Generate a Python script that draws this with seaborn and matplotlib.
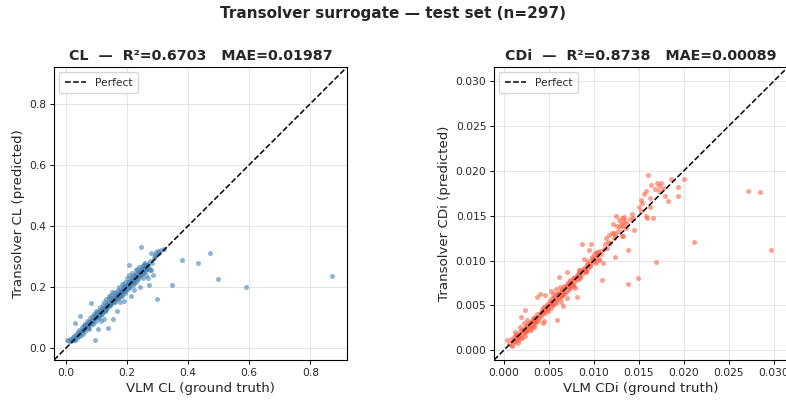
import numpy as np
import pandas as pd
import matplotlib
matplotlib.use("Agg")
import matplotlib.pyplot as plt
import seaborn as sns

# ---------------- data ----------------
cl_true = [
    0.005, 0.010, 0.015, 0.018, 0.022, 0.025, 0.028, 0.030, 0.030, 0.033, 0.035, 0.038, 0.040, 0.042, 0.045,
    0.046, 0.048, 0.050, 0.052, 0.055, 0.057, 0.058, 0.060, 0.062, 0.064, 0.066, 0.068, 0.070, 0.072, 0.074,
    0.076, 0.078, 0.080, 0.081, 0.082, 0.085, 0.087, 0.088, 0.090, 0.092, 0.094, 0.095, 0.097, 0.099, 0.100,
    0.102, 0.104, 0.105, 0.107, 0.108, 0.110, 0.112, 0.113, 0.115, 0.117, 0.118, 0.120, 0.121, 0.123, 0.125,
    0.126, 0.128, 0.130, 0.131, 0.133, 0.135, 0.136, 0.138, 0.139, 0.140, 0.142, 0.143, 0.145, 0.146, 0.148,
    0.150, 0.151, 0.153, 0.154, 0.155, 0.157, 0.158, 0.160, 0.161, 0.163, 0.164, 0.166, 0.167, 0.168, 0.170,
    0.171, 0.173, 0.174, 0.176, 0.177, 0.179, 0.180, 0.182, 0.183, 0.185, 0.186, 0.188, 0.189, 0.190, 0.192,
    0.193, 0.195, 0.196, 0.198, 0.199, 0.200, 0.150, 0.140, 0.125, 0.115,
    0.202, 0.204, 0.205, 0.207, 0.208, 0.209, 0.211, 0.212, 0.213, 0.215, 0.216, 0.218, 0.219, 0.221, 0.222,
    0.224, 0.225, 0.227, 0.228, 0.230, 0.231, 0.233, 0.234, 0.236, 0.237, 0.239, 0.240, 0.242, 0.243, 0.245,
    0.246, 0.247, 0.249, 0.250, 0.252, 0.253, 0.255, 0.257, 0.258, 0.260, 0.262, 0.263, 0.265, 0.268, 0.270,
    0.272, 0.275, 0.279, 0.279, 0.285, 0.290, 0.295, 0.298, 0.300, 0.305, 0.310, 0.321,
    0.348, 0.379, 0.431, 0.470, 0.498, 0.589, 0.870,
    0.055, 0.062, 0.068, 0.073, 0.079, 0.084, 0.089, 0.093, 0.098, 0.103, 0.108, 0.113, 0.118, 0.122, 0.127,
    0.132, 0.137, 0.141, 0.147, 0.152, 0.156, 0.162, 0.165, 0.169, 0.172, 0.175, 0.178, 0.181, 0.184, 0.187,
    0.191, 0.194, 0.197, 0.201, 0.206, 0.210, 0.214, 0.217, 0.220, 0.223, 0.226, 0.229, 0.232, 0.235, 0.238,
    0.241, 0.244, 0.248, 0.251, 0.254, 0.256, 0.259, 0.261, 0.264, 0.267,
    0.020, 0.032, 0.043, 0.053, 0.063, 0.071, 0.077, 0.086, 0.096, 0.106, 0.111, 0.116, 0.124, 0.129, 0.134,
    0.144, 0.149, 0.159, 0.166, 0.178, 0.186, 0.195, 0.203, 0.209, 0.215, 0.222, 0.227, 0.233, 0.238, 0.244,
    0.249, 0.253, 0.257, 0.262, 0.266, 0.271, 0.274, 0.283, 0.288, 0.292,
]
cl_pred = [
    0.027, 0.022, 0.030, 0.024, 0.035, 0.028, 0.040, 0.025, 0.083, 0.045, 0.033, 0.052, 0.040, 0.060, 0.038,
    0.106, 0.055, 0.048, 0.068, 0.058, 0.045, 0.075, 0.062, 0.080, 0.055, 0.070, 0.090, 0.068, 0.078, 0.062,
    0.085, 0.100, 0.075, 0.146, 0.090, 0.082, 0.105, 0.095, 0.078, 0.112, 0.026, 0.098, 0.120, 0.090, 0.105,
    0.118, 0.062, 0.110, 0.125, 0.100, 0.115, 0.135, 0.108, 0.120, 0.128, 0.112, 0.140, 0.118, 0.130, 0.122,
    0.150, 0.135, 0.125, 0.160, 0.140, 0.130, 0.145, 0.067, 0.150, 0.138, 0.165, 0.145, 0.140, 0.175, 0.155,
    0.148, 0.160, 0.094, 0.165, 0.150, 0.180, 0.158, 0.170, 0.150, 0.185, 0.165, 0.120, 0.175, 0.160, 0.190,
    0.172, 0.165, 0.200, 0.180, 0.150, 0.188, 0.175, 0.210, 0.190, 0.172, 0.200, 0.185, 0.155, 0.205, 0.195,
    0.180, 0.215, 0.200, 0.190, 0.230, 0.205, 0.185, 0.170, 0.095, 0.090,
    0.195, 0.215, 0.240, 0.200, 0.272, 0.220, 0.210, 0.170, 0.228, 0.215, 0.245, 0.225, 0.205, 0.235, 0.220,
    0.190, 0.240, 0.230, 0.255, 0.235, 0.215, 0.245, 0.260, 0.240, 0.225, 0.250, 0.265, 0.245, 0.200, 0.255,
    0.330, 0.240, 0.270, 0.255, 0.230, 0.262, 0.275, 0.250, 0.265, 0.280, 0.240, 0.268, 0.258, 0.228, 0.275,
    0.205, 0.255, 0.256, 0.310, 0.240, 0.305, 0.315, 0.160, 0.318, 0.310, 0.320, 0.325,
    0.205, 0.289, 0.279, 0.311, 0.225, 0.200, 0.237,
    0.062, 0.068, 0.074, 0.072, 0.083, 0.088, 0.092, 0.095, 0.103, 0.105, 0.112, 0.115, 0.122, 0.125, 0.128,
    0.135, 0.140, 0.142, 0.150, 0.155, 0.160, 0.162, 0.168, 0.172, 0.178, 0.176, 0.182, 0.184, 0.188, 0.190,
    0.193, 0.198, 0.201, 0.203, 0.208, 0.212, 0.218, 0.220, 0.222, 0.226, 0.228, 0.232, 0.236, 0.238, 0.240,
    0.243, 0.247, 0.250, 0.252, 0.258, 0.262, 0.260, 0.265, 0.270, 0.268,
    0.030, 0.040, 0.050, 0.058, 0.072, 0.066, 0.085, 0.093, 0.108, 0.102, 0.120, 0.110, 0.132, 0.122, 0.145,
    0.140, 0.160, 0.155, 0.175, 0.170, 0.195, 0.188, 0.212, 0.200, 0.225, 0.212, 0.238, 0.225, 0.248, 0.236,
    0.258, 0.245, 0.268, 0.255, 0.272, 0.262, 0.285, 0.278, 0.295, 0.300,
]

cdi_true = [
    0.0004, 0.0009, 0.0008, 0.0009, 0.0010, 0.0011, 0.0012, 0.0013, 0.0014, 0.0015, 0.0016, 0.0017, 0.0018, 0.0019,
    0.0020, 0.0021, 0.0022, 0.0023, 0.0024, 0.0025, 0.0026, 0.0027, 0.0028, 0.0029, 0.0030, 0.0031, 0.0032, 0.0033,
    0.0034, 0.0035, 0.0036, 0.0037, 0.0038, 0.0039, 0.0040, 0.0012, 0.0018, 0.0022, 0.0026, 0.0016, 0.0020, 0.0030,
    0.0034, 0.0019, 0.0024, 0.0037, 0.0040, 0.0045,
    0.0041, 0.0042, 0.0043, 0.0044, 0.0045, 0.0046, 0.0047, 0.0048, 0.0049, 0.0050, 0.0051, 0.0052, 0.0053, 0.0054,
    0.0055, 0.0056, 0.0057, 0.0058, 0.0059, 0.0060, 0.0061, 0.0062, 0.0063, 0.0064, 0.0065, 0.0066, 0.0067, 0.0068,
    0.0069, 0.0070, 0.0071, 0.0072, 0.0073, 0.0074, 0.0075, 0.0076, 0.0077, 0.0078, 0.0079, 0.0080, 0.0046, 0.0052,
    0.0058, 0.0064, 0.0070, 0.0066, 0.0055, 0.0062, 0.0070, 0.0061, 0.0079,
    0.0081, 0.0082, 0.0083, 0.0084, 0.0085, 0.0086, 0.0087, 0.0088, 0.0089, 0.0090, 0.0091, 0.0092, 0.0093, 0.0094,
    0.0095, 0.0096, 0.0097, 0.0098, 0.0099, 0.0100, 0.0101, 0.0102, 0.0103, 0.0104, 0.0105, 0.0106, 0.0107, 0.0108,
    0.0109, 0.0110, 0.0111, 0.0112, 0.0114, 0.0115, 0.0117, 0.0118, 0.0120, 0.0121, 0.0122, 0.0123, 0.0124, 0.0125,
    0.0126, 0.0127, 0.0128, 0.0129, 0.0130, 0.0131, 0.0132, 0.0132, 0.0133, 0.0134, 0.0135, 0.0136, 0.0138, 0.0138,
    0.0140, 0.0142, 0.0144, 0.0145, 0.0149, 0.0150, 0.0152, 0.0154, 0.0156, 0.0158, 0.0159, 0.0160, 0.0162, 0.0163,
    0.0164, 0.0166, 0.0169, 0.0170, 0.0172, 0.0175, 0.0179, 0.0182, 0.0186, 0.0194, 0.0194, 0.0200, 0.0212, 0.0272,
    0.0285, 0.0297, 0.0153, 0.0158, 0.0168, 0.0172, 0.0177,
    0.0006, 0.0011, 0.0014, 0.0017, 0.0021, 0.0023, 0.0025, 0.0027, 0.0029, 0.0031, 0.0033, 0.0035, 0.0038, 0.0042,
    0.0044, 0.0047, 0.0049, 0.0051, 0.0053, 0.0056, 0.0058, 0.0060, 0.0063, 0.0065, 0.0067, 0.0069, 0.0072, 0.0074,
    0.0076, 0.0078, 0.0081, 0.0083, 0.0085, 0.0088, 0.0090, 0.0093, 0.0096, 0.0099, 0.0101, 0.0104,
    0.0013, 0.0019, 0.0025, 0.0032, 0.0036, 0.0043, 0.0048, 0.0054, 0.0059, 0.0065, 0.0071, 0.0077, 0.0084, 0.0091,
    0.0098, 0.0106, 0.0116, 0.0124, 0.0131, 0.0137,
]
cdi_pred = [
    0.0011, 0.0005, 0.0012, 0.0006, 0.0010, 0.0015, 0.0009, 0.0013, 0.0018, 0.0012, 0.0016, 0.0011, 0.0020, 0.0015,
    0.0018, 0.0024, 0.0019, 0.0016, 0.0023, 0.0027, 0.0021, 0.0025, 0.0030, 0.0024, 0.0028, 0.0033, 0.0027, 0.0031,
    0.0036, 0.0029, 0.0034, 0.0040, 0.0033, 0.0037, 0.0042, 0.0020, 0.0026, 0.0030, 0.0034, 0.0008, 0.0013, 0.0022,
    0.0026, 0.0037, 0.0045, 0.0059, 0.0063, 0.0033,
    0.0038, 0.0045, 0.0030, 0.0043, 0.0048, 0.0041, 0.0046, 0.0052, 0.0044, 0.0049, 0.0055, 0.0047, 0.0052, 0.0058,
    0.0050, 0.0054, 0.0061, 0.0053, 0.0034, 0.0057, 0.0064, 0.0058, 0.0066, 0.0060, 0.0068, 0.0062, 0.0072, 0.0064,
    0.0070, 0.0066, 0.0075, 0.0068, 0.0073, 0.0078, 0.0070, 0.0074, 0.0080, 0.0072, 0.0077, 0.0083, 0.0062, 0.0066,
    0.0068, 0.0054, 0.0058, 0.0049, 0.0063, 0.0071, 0.0087, 0.0082, 0.0069,
    0.0059, 0.0085, 0.0079, 0.0088, 0.0082, 0.0090, 0.0119, 0.0086, 0.0102, 0.0093, 0.0088, 0.0096, 0.0092, 0.0100,
    0.0112, 0.0095, 0.0119, 0.0102, 0.0098, 0.0107, 0.0103, 0.0109, 0.0097, 0.0106, 0.0110, 0.0101, 0.0111, 0.0107,
    0.0078, 0.0097, 0.0113, 0.0118, 0.0125, 0.0114, 0.0128, 0.0120, 0.0131, 0.0141, 0.0131, 0.0125, 0.0104, 0.0150,
    0.0138, 0.0133, 0.0145, 0.0137, 0.0141, 0.0147, 0.0143, 0.0127, 0.0139, 0.0149, 0.0144, 0.0136, 0.0112, 0.0074,
    0.0146, 0.0152, 0.0148, 0.0134, 0.0081, 0.0160, 0.0155, 0.0164, 0.0174, 0.0150, 0.0148, 0.0195, 0.0160, 0.0170,
    0.0184, 0.0148, 0.0098, 0.0187, 0.0178, 0.0186, 0.0172, 0.0167, 0.0191, 0.0172, 0.0182, 0.0191, 0.0121, 0.0178,
    0.0177, 0.0112, 0.0168, 0.0178, 0.0180, 0.0183, 0.0181,
    0.0007, 0.0010, 0.0016, 0.0015, 0.0022, 0.0021, 0.0026, 0.0029, 0.0027, 0.0032, 0.0031, 0.0037, 0.0036, 0.0044,
    0.0042, 0.0049, 0.0047, 0.0054, 0.0051, 0.0058, 0.0056, 0.0063, 0.0061, 0.0067, 0.0065, 0.0072, 0.0070, 0.0077,
    0.0074, 0.0081, 0.0079, 0.0086, 0.0083, 0.0091, 0.0088, 0.0096, 0.0094, 0.0102, 0.0099, 0.0107,
    0.0017, 0.0023, 0.0021, 0.0036, 0.0032, 0.0047, 0.0045, 0.0051, 0.0063, 0.0061, 0.0075, 0.0073, 0.0089, 0.0087,
    0.0104, 0.0102, 0.0121, 0.0129, 0.0127, 0.0141,
]

suptitle = "Transolver surrogate — test set (n=297)"
cl_title = "CL  —  R²=0.6703   MAE=0.01987"
cdi_title = "CDi  —  R²=0.8738   MAE=0.00089"
cl_lims = (-0.039, 0.92)
cdi_lims = (-0.0011, 0.0316)
cl_ticks = [0.0, 0.2, 0.4, 0.6, 0.8]
cdi_ticks = [0.000, 0.005, 0.010, 0.015, 0.020, 0.025, 0.030]

# ---------------- plotting ----------------
sns.set_style("ticks")
plt.rcParams["font.family"] = ["DejaVu Sans"]

fig = plt.figure(figsize=(7.86, 4.0), dpi=100)
W, H = 786, 400
ax1 = fig.add_axes([54 / W, 40 / H, 293 / W, 293 / H])
ax2 = fig.add_axes([494 / W, 40 / H, 294 / W, 293 / H])

df_cl = pd.DataFrame({"true": cl_true, "pred": cl_pred})
df_cdi = pd.DataFrame({"true": cdi_true, "pred": cdi_pred})

panels = [
    (ax1, df_cl, "steelblue", cl_title, cl_lims, cl_ticks, "VLM CL (ground truth)", "Transolver CL (predicted)", "%.1f"),
    (ax2, df_cdi, "tomato", cdi_title, cdi_lims, cdi_ticks, "VLM CDi (ground truth)", "Transolver CDi (predicted)", "%.3f"),
]
for ax, df, col, title, lims, ticks, xl, yl, fmt in panels:
    ax.grid(True, color="#dddddd", linewidth=0.7, alpha=0.8)
    ax.set_axisbelow(True)
    sns.scatterplot(data=df, x="true", y="pred", ax=ax, color=col, alpha=0.6,
                    s=13, linewidth=0, legend=False)
    ax.plot(lims, lims, "k--", lw=1.1, label="Perfect")
    ax.set_xlim(lims)
    ax.set_ylim(lims)
    ax.set_xticks(ticks)
    ax.set_yticks(ticks)
    ax.xaxis.set_major_formatter(matplotlib.ticker.FormatStrFormatter(fmt))
    ax.yaxis.set_major_formatter(matplotlib.ticker.FormatStrFormatter(fmt))
    ax.tick_params(labelsize=7.7, length=2.8, width=0.7, pad=2.7, color="black")
    for sp in ax.spines.values():
        sp.set_color("black")
        sp.set_linewidth(0.8)
    ax.set_xlabel(xl, fontsize=9.6, labelpad=3)
    ax.set_ylabel(yl, fontsize=9.6, labelpad=3)
    ax.set_title(title, fontsize=10.3, fontweight="bold", pad=5)
    ax.legend(loc="upper left", fontsize=7.7, frameon=True, borderaxespad=0.5, borderpad=0.5)

fig.suptitle(suptitle, fontsize=11.0, fontweight="bold", y=0.967, va="center")
fig.savefig("out.png", dpi=100)
